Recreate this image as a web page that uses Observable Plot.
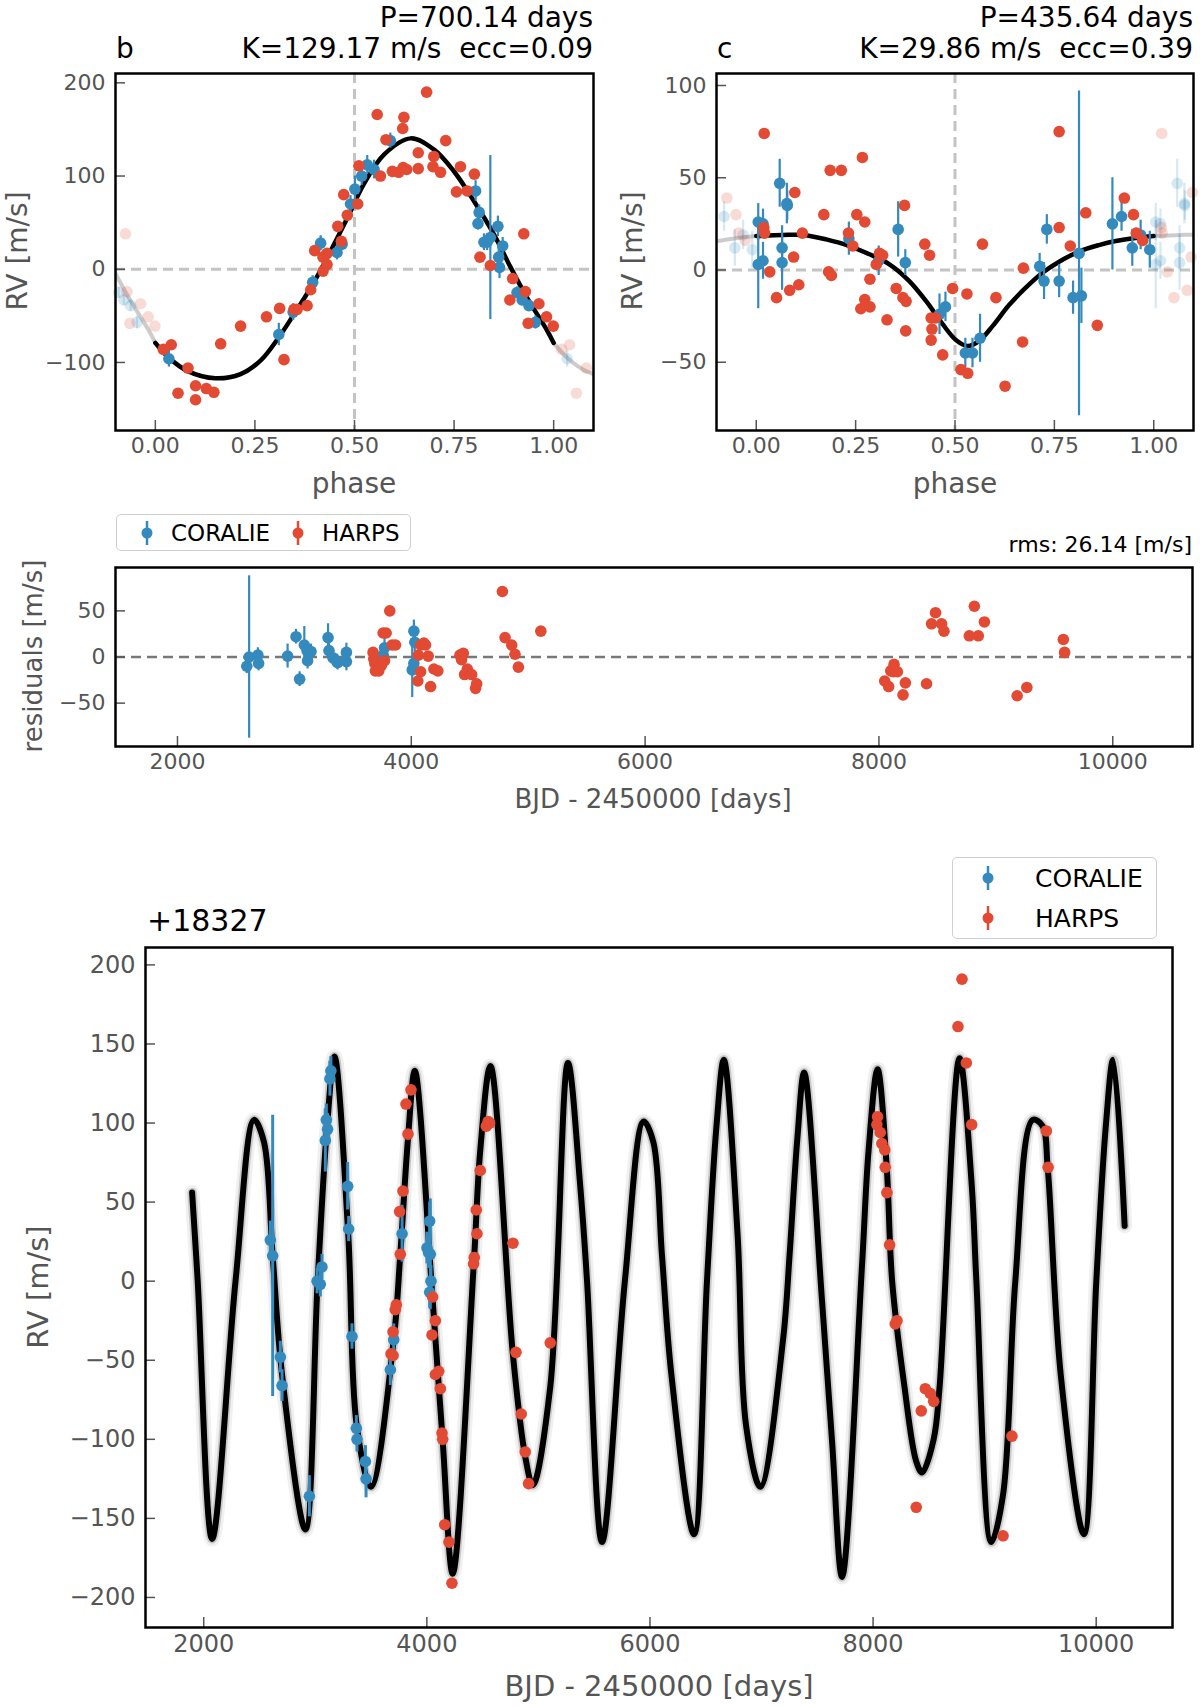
<!DOCTYPE html>
<html>
<head>
<meta charset="utf-8">
<script src="https://cdn.jsdelivr.net/npm/d3@7"></script>
<script src="https://cdn.jsdelivr.net/npm/@observablehq/plot@0.6"></script>
<style>
  html, body { margin: 0; padding: 0; background: #fff; }
  #page { position: relative; width: 1200px; height: 1707px; overflow: hidden;
          font-family: "DejaVu Sans", sans-serif; }
  .txt { position: absolute; white-space: pre; line-height: 1; }
  .legend { position: absolute; box-sizing: border-box; border: 1.5px solid #cfcfcf;
            border-radius: 5px; background: rgba(255,255,255,0.8); color: #000; }
  .legend .item { display: flex; align-items: center; }
</style>
</head>
<body>
<div id="page"></div>
<script>
// ---- Data -----------------------------------------------------------------

const instruments = ["CORALIE", "HARPS"];

// Planet b, phase-folded model: [phase, rv]
const curveB = [
  [0.000, -79], [0.034, -95], [0.080, -109], [0.151, -117], [0.214, -112.5],
  [0.264, -98], [0.310, -73], [0.356, -43], [0.398, -14], [0.440, 19.6],
  [0.482, 55], [0.523, 91], [0.574, 123], [0.641, 140.4], [0.699, 128.6],
  [0.749, 105.4], [0.800, 73], [0.850, 37.5], [0.892, 2], [0.933, -30.4],
  [0.984, -66], [1.000, -79]
];
// CORALIE, planet b: [phase, rv, err]
const coralieB = [
  [0.034, -96, 9], [0.310, -70, 12], [0.346, -46, 9], [0.395, -14, 7], [0.415, 28, 8],
  [0.456, 18, 8], [0.469, 27, 7], [0.490, 70, 9], [0.501, 86, 14], [0.518, 100, 10],
  [0.532, 112, 10], [0.549, 107, 10], [0.590, 138, 8], [0.804, 84, 11], [0.810, 49, 7],
  [0.813, 61, 8], [0.825, 29, 9], [0.833, 29, 9], [0.841, 34, 88], [0.860, 46, 11],
  [0.862, 13, 10], [0.864, 2, 12], [0.872, 25, 9], [0.908, -25, 6], [0.921, -33, 6],
  [0.938, -39, 6], [0.954, -57, 7]
];
// HARPS, planet b: [phase, rv]
const harpsB = [
  [0.020, -86], [0.040, -81], [0.057, -133], [0.082, -106], [0.101, -125], [0.101, -140],
  [0.128, -128], [0.147, -132], [0.164, -80], [0.214, -61], [0.279, -51], [0.312, -42],
  [0.323, -97], [0.348, -43], [0.356, -43], [0.381, -39], [0.390, -22], [0.400, 20],
  [0.421, 13], [0.421, -2], [0.431, 17], [0.431, 5], [0.458, 46], [0.467, 30],
  [0.473, 80], [0.482, 58], [0.508, 70], [0.511, 111], [0.557, 166], [0.565, 100],
  [0.579, 139], [0.595, 105], [0.611, 104], [0.621, 151], [0.622, 109], [0.624, 163],
  [0.631, 107], [0.660, 108], [0.660, 125], [0.681, 190], [0.697, 110], [0.699, 121],
  [0.716, 104], [0.729, 138], [0.756, 83], [0.766, 110], [0.783, 84], [0.801, 102],
  [0.815, 13], [0.841, 4], [0.890, -33], [0.897, -10], [0.925, 38], [0.929, -24],
  [0.936, -58], [0.963, -37], [0.982, -51], [0.999, -61]
];

// Planet c, phase-folded model: [phase, rv]
const curveC = [
  [0.000, 18.4], [0.067, 19.0], [0.118, 19.0], [0.176, 16.6], [0.235, 13.0],
  [0.285, 8.5], [0.335, 3.1], [0.385, -6.0], [0.427, -16.8], [0.469, -29.4],
  [0.503, -38.1], [0.532, -41.2], [0.561, -38.4], [0.595, -30.3], [0.636, -19.0],
  [0.678, -9.6], [0.720, -1.5], [0.762, 4.5], [0.812, 10.0], [0.862, 13.5],
  [0.904, 15.7], [0.954, 17.3], [1.000, 18.4]
];
const coralieC = [
  [0.005, 26, 10], [0.017, 25, 8], [0.005, 3, 24], [0.017, 5, 10], [0.059, 47, 13],
  [0.065, 12, 12], [0.065, 4, 15], [0.077, 36, 11], [0.078, 35, 8], [0.233, 17, 9],
  [0.308, 5, 8], [0.357, 22, 15], [0.375, 4, 7], [0.461, -24, 11], [0.476, -20, 8],
  [0.526, -45, 8], [0.544, -45, 8], [0.563, -37, 13], [0.713, 2, 7], [0.724, -6, 10],
  [0.731, 22, 8], [0.762, -6, 9], [0.797, -15, 9], [0.812, 9, 88], [0.818, -14, 15],
  [0.896, 25, 25], [0.919, 29, 8], [0.946, 12, 10], [0.967, 19, 8], [0.990, 11, 10]
];
const harpsC = [
  [0.019, 23], [0.020, 74], [0.021, 20], [0.034, -1], [0.051, -15], [0.084, -11],
  [0.094, 7], [0.097, 42], [0.107, -8], [0.116, 20], [0.170, 30], [0.182, -1],
  [0.186, 54], [0.189, -3], [0.214, 54], [0.232, 20], [0.243, 13], [0.253, 30],
  [0.263, -21], [0.267, 61], [0.273, 26], [0.273, -16], [0.286, -20], [0.286, -5],
  [0.302, 3], [0.310, 9], [0.318, 8], [0.329, -27], [0.352, -10], [0.369, -15],
  [0.373, 35], [0.376, -33], [0.377, -17], [0.424, 14], [0.436, 8], [0.440, -26],
  [0.440, -38], [0.442, -32], [0.451, -26], [0.469, -46], [0.494, -10], [0.515, -54],
  [0.530, -13], [0.532, -56], [0.569, 14], [0.603, -15], [0.626, -63], [0.670, -39],
  [0.672, 1], [0.762, 75], [0.762, 23], [0.790, 13], [0.829, 31], [0.858, -30],
  [0.926, 39], [0.949, 30], [0.956, 20], [0.972, 16]
];

// Residuals vs time: [BJD-2450000, residual, err]
const coralieRes = [
  [2593, -10, 8], [2613, 0, 88], [2688, 2, 8], [2694, -7, 8], [2942, 1, 13],
  [3014, 22, 8], [3045, -24, 8], [3085, 13, 20], [3108, 7, 9], [3113, -4, 9],
  [3142, 6, 8], [3288, 21, 15], [3296, 7, 8], [3330, -1, 8], [3364, -5, 8],
  [3370, -6, 8], [3445, 5, 10], [3445, -5, 10], [3760, 2, 10], [3771, 10, 18],
  [4008, -14, 30], [4022, 28, 12], [4030, 16, 10], [4022, -7, 10]
];
const harpsRes = [
  [3673, 5], [3679, -2], [3688, -7], [3693, -15], [3722, -15], [3745, -9], [3771, -4],
  [3759, 26], [3785, 26], [3816, 50], [3836, 13], [3865, 13],
  [4056, -26], [4060, 2], [4080, 13], [4080, -16], [4108, 15], [4122, 13], [4145, 1],
  [4165, -32], [4193, -13], [4227, -15],
  [4416, 2], [4430, -3], [4445, 4], [4456, -19], [4479, -13], [4516, -19], [4550, -34],
  [4559, -29],
  [4779, 71], [4802, 21], [4859, 13], [4887, 3], [4916, -11], [5108, 28],
  [8049, -26], [8083, -32], [8101, -15], [8124, -16], [8129, -8], [8158, -16],
  [8206, -41], [8226, -28],
  [8407, -29], [8450, 36], [8484, 48], [8536, 36], [8556, 28],
  [8773, 23], [8816, 55], [8850, 23], [8902, 38],
  [9182, -42], [9265, -33], [9577, 19], [9588, 5]
];

// Full two-planet model vs time: [BJD-2450000, rv]
const modelTime = [
  [1896, 56], [1946, 0], [2075, -163], [2285, 0], [2451, 102], [2540, 88], [2618, 16],
  [2702, -59], [2911, -157], [3021, 0], [3105, 97], [3172, 142], [3295, 30], [3371, -91],
  [3500, -130], [3703, -37], [3762, 17], [3831, 90], [3892, 133], [4052, -12],
  [4142, -101], [4232, -185], [4419, 9], [4479, 83], [4570, 136], [4772, -47],
  [4882, -111], [4950, -129], [5106, -67], [5265, 138], [5374, 61], [5436, 0],
  [5570, -165], [5775, 0], [5943, 101], [6030, 88], [6108, 16], [6192, -59],
  [6395, -160], [6511, 0], [6595, 97], [6662, 140], [6785, 30], [6861, -91],
  [6990, -130], [7193, -37], [7252, 17], [7321, 90], [7382, 132], [7542, -12],
  [7632, -101], [7722, -187], [7900, 9], [7960, 83], [8040, 134], [8120, 75],
  [8171, 0], [8280, -66], [8387, -114], [8440, -121], [8543, -100], [8596, -67],
  [8775, 141], [8884, 61], [8926, 0], [9060, -165], [9165, -135], [9275, 0],
  [9431, 102], [9520, 98], [9565, 72], [9682, -59], [9890, -160], [10001, 0],
  [10085, 97], [10152, 140], [10255, 35]
];
const coralieTime = [
  [2597, 26, 12], [2618, 16, 89], [2687, -48, 10], [2702, -66, 10], [2947, -136, 13],
  [3016, 0, 8], [3045, -2, 8], [3060, 9, 8], [3090, 89, 20], [3099, 102, 10],
  [3110, 96, 10], [3131, 128, 11], [3140, 133, 9], [3290, 60, 15], [3299, 33, 8],
  [3329, -35, 8], [3368, -93, 8], [3374, -100, 8], [3449, -114, 10], [3455, -125, 12],
  [3673, -56, 10], [3703, -37, 10], [3778, 30, 18], [4001, 21, 10], [4016, 18, 10],
  [4025, 38, 12], [4031, 17, 35], [4037, 0, 10], [4025, -7, 10]
];
const harpsTime = [
  [3679, -46], [3697, -47], [3697, -32], [3717, -18], [3726, -15], [3762, 17], [3756, 44],
  [3786, 57], [3813, 112], [3831, 93], [3858, 121],
  [4046, -34], [4052, -10], [4076, -25], [4076, -59], [4106, -57], [4121, -68],
  [4136, -96], [4142, -100], [4160, -154], [4198, -165], [4225, -191],
  [4419, 11], [4425, 15], [4443, 45], [4449, 30], [4479, 70], [4533, 98], [4550, 101],
  [4563, 100],
  [4772, 24], [4799, -45], [4846, -84], [4882, -108], [4912, -128], [5106, -39],
  [8034, 99], [8040, 104], [8064, 94], [8079, 87], [8105, 83], [8109, 72], [8124, 56],
  [8148, 23], [8199, -27], [8214, -25],
  [8387, -143], [8432, -82], [8468, -68], [8513, -71], [8543, -76],
  [8761, 161], [8797, 191], [8836, 138], [8884, 99],
  [9165, -161], [9245, -98], [9553, 95], [9569, 72]
];

// Tick values
const phaseTicks = [0, 0.25, 0.5, 0.75, 1];
const rvTicksB = [-100, 0, 100, 200];
const rvTicksC = [-50, 0, 50, 100];
const resTicks = [-50, 0, 50];
const timeTicks = [2000, 4000, 6000, 8000, 10000];
const rvTicksTime = [-200, -150, -100, -50, 0, 50, 100, 150, 200];

// ---- Drawing ---------------------------------------------------------------

const FONT = '"DejaVu Sans", sans-serif';
const BLUE = "#348ABD";
const RED = "#E24A33";
const DOT = 5.8;
const page = document.getElementById("page");

function text(str, x, y, o) {
  o = o || {};
  const el = document.createElement("div");
  el.className = "txt";
  el.textContent = str;
  el.style.left = x + "px";
  el.style.top = y + "px";
  el.style.fontSize = (o.size || 22) + "px";
  el.style.color = o.color || "#000";
  const tx = o.align === "right" ? "-100%" : o.align === "center" ? "-50%" : "0";
  el.style.transform = "translate(" + tx + ",-50%)" + (o.rotate ? " rotate(-90deg)" : "");
  page.appendChild(el);
}

function errIcon(color) {
  const ns = "http://www.w3.org/2000/svg";
  const s = document.createElementNS(ns, "svg");
  s.setAttribute("width", 14);
  s.setAttribute("height", 28);
  const l = document.createElementNS(ns, "line");
  l.setAttribute("x1", 7); l.setAttribute("x2", 7);
  l.setAttribute("y1", 2); l.setAttribute("y2", 26);
  l.setAttribute("stroke", color); l.setAttribute("stroke-width", 2.5);
  const c = document.createElementNS(ns, "circle");
  c.setAttribute("cx", 7); c.setAttribute("cy", 14); c.setAttribute("r", 5.5);
  c.setAttribute("fill", color);
  s.appendChild(l); s.appendChild(c);
  return s;
}

function legend(box, vertical, size) {
  const lg = document.createElement("div");
  lg.className = "legend";
  Object.assign(lg.style, {
    left: box.x + "px", top: box.y + "px", width: box.w + "px", height: box.h + "px",
    display: "flex", flexDirection: vertical ? "column" : "row",
    justifyContent: vertical ? "center" : "flex-start", alignItems: vertical ? "flex-start" : "center",
    fontSize: size + "px"
  });
  instruments.forEach(function (name, i) {
    const it = document.createElement("div");
    it.className = "item";
    const ic = errIcon(i === 0 ? BLUE : RED);
    ic.style.marginLeft = (vertical ? 28 : (i === 0 ? 23 : 21)) + "px";
    ic.style.marginRight = (vertical ? 40 : 17) + "px";
    it.appendChild(ic);
    const t = document.createElement("span");
    t.textContent = name;
    it.appendChild(t);
    if (vertical) it.style.height = "40px";
    lg.appendChild(it);
  });
  page.appendChild(lg);
}

function panel(frame, xDomain, yDomain, marks) {
  const mL = 90, mR = 12, mT = 12, mB = 60;
  const svg = Plot.plot({
    width: frame.w + mL + mR,
    height: frame.h + mT + mB,
    marginLeft: mL, marginRight: mR, marginTop: mT, marginBottom: mB,
    style: { background: "transparent", color: "#555", fontFamily: FONT, overflow: "visible" },
    x: { domain: xDomain },
    y: { domain: yDomain },
    marks: marks
  });
  svg.style.position = "absolute";
  svg.style.left = (frame.x - mL) + "px";
  svg.style.top = (frame.y - mT) + "px";
  page.appendChild(svg);
}

function axes(xt, xf, yt, yf, size) {
  return [
    Plot.axisX({ ticks: xt, tickFormat: xf, tickSize: -10, tickPadding: 17, fontSize: size,
                 label: null, strokeWidth: 1.5 }),
    Plot.axisY({ ticks: yt, tickFormat: yf, tickSize: -10, tickPadding: 20, fontSize: size,
                 label: null, strokeWidth: 1.5 }),
    Plot.frame({ stroke: "#000", strokeWidth: 2.5 })
  ];
}

// Copies of folded points shifted by one period, kept only inside [-0.1, 1.1].
function wrapped(rows) {
  return rows.flatMap(function (r) {
    return [[r[0] - 1].concat(r.slice(1)), [r[0] + 1].concat(r.slice(1))];
  }).filter(function (r) { return r[0] >= -0.1 && r[0] <= 1.1; });
}
function shifted(rows, k) { return rows.map(function (r) { return [r[0] + k, r[1]]; }); }

const X = function (d) { return d[0]; };
const Y = function (d) { return d[1]; };
const Y1 = function (d) { return d[1] - d[2]; };
const Y2 = function (d) { return d[1] + d[2]; };
const phaseFmt = d3.format(".2f");
const numFmt = function (d) { return d3.format("d")(d); };

function phaseMarks(curve, coralie, harps) {
  const fc = wrapped(coralie), fh = wrapped(harps);
  return [
    Plot.ruleY([0], { stroke: "#c4c4c4", strokeWidth: 3, strokeDasharray: "10,6" }),
    Plot.ruleX([0.5], { stroke: "#c4c4c4", strokeWidth: 3, strokeDasharray: "10,6" }),
    Plot.line(shifted(curve, -1), { x: X, y: Y, curve: "catmull-rom", stroke: "#000",
      strokeOpacity: 0.2, strokeWidth: 4, clip: true }),
    Plot.line(shifted(curve, 1), { x: X, y: Y, curve: "catmull-rom", stroke: "#000",
      strokeOpacity: 0.2, strokeWidth: 4, clip: true }),
    Plot.line(curve, { x: X, y: Y, curve: "catmull-rom", stroke: "#000", strokeWidth: 4.5 }),
    Plot.ruleX(fc, { x: X, y1: Y1, y2: Y2, stroke: BLUE, strokeWidth: 2.2, strokeOpacity: 0.2 }),
    Plot.dot(fc, { x: X, y: Y, r: DOT, fill: BLUE, fillOpacity: 0.2 }),
    Plot.dot(fh, { x: X, y: Y, r: DOT, fill: RED, fillOpacity: 0.2 }),
    Plot.ruleX(coralie, { x: X, y1: Y1, y2: Y2, stroke: BLUE, strokeWidth: 2.2 }),
    Plot.dot(coralie, { x: X, y: Y, r: DOT, fill: BLUE }),
    Plot.dot(harps, { x: X, y: Y, r: DOT, fill: RED })
  ];
}

// Panel b
const fB = { x: 115, y: 73, w: 478, h: 357 };
panel(fB, [-0.1, 1.1], [-173, 210],
  phaseMarks(curveB, coralieB, harpsB).concat(axes(phaseTicks, phaseFmt, rvTicksB, numFmt, 22)));
// Panel c
const fC = { x: 716, y: 73, w: 477, h: 357 };
panel(fC, [-0.1, 1.1], [-87, 106.5],
  phaseMarks(curveC, coralieC, harpsC).concat(axes(phaseTicks, phaseFmt, rvTicksC, numFmt, 22)));

// Residuals
const fR = { x: 115, y: 567, w: 1077, h: 179 };
panel(fR, [1470, 10682], [-97, 97], [
  Plot.ruleY([0], { stroke: "#777", strokeWidth: 2.5, strokeDasharray: "10,6" }),
  Plot.ruleX(coralieRes, { x: X, y1: Y1, y2: Y2, stroke: BLUE, strokeWidth: 2.2 }),
  Plot.dot(coralieRes, { x: X, y: Y, r: DOT, fill: BLUE }),
  Plot.dot(harpsRes, { x: X, y: Y, r: DOT, fill: RED })
].concat(axes(timeTicks, numFmt, resTicks, numFmt, 22)));

// Full time series: the model is drawn as a soft grey band (posterior spread) under a black core.
const fT = { x: 145, y: 947, w: 1027, h: 680 };
panel(fT, [1478, 10684], [-219, 211], [
  Plot.line(modelTime, { x: X, y: Y, curve: "catmull-rom", stroke: "#000",
    strokeOpacity: 0.06, strokeWidth: 15 }),
  Plot.line(modelTime, { x: X, y: Y, curve: "catmull-rom", stroke: "#000",
    strokeOpacity: 0.16, strokeWidth: 9.5 }),
  Plot.line(modelTime, { x: X, y: Y, curve: "catmull-rom", stroke: "#000", strokeWidth: 6 }),
  Plot.ruleX(coralieTime, { x: X, y1: Y1, y2: Y2, stroke: BLUE, strokeWidth: 3 }),
  Plot.dot(coralieTime, { x: X, y: Y, r: DOT, fill: BLUE }),
  Plot.dot(harpsTime, { x: X, y: Y, r: DOT, fill: RED })
].concat(axes(timeTicks, numFmt, rvTicksTime, numFmt, 24)));

// ---- Text ------------------------------------------------------------------
const GREY = "#555";
text("P=700.14 days", 593, 18, { size: 28, align: "right" });
text("K=129.17 m/s  ecc=0.09", 593, 49, { size: 28, align: "right" });
text("b", 116, 49, { size: 28 });
text("P=435.64 days", 1193, 18, { size: 28, align: "right" });
text("K=29.86 m/s  ecc=0.39", 1193, 49, { size: 28, align: "right" });
text("c", 717, 49, { size: 28 });

text("phase", 354, 484, { size: 28, align: "center", color: GREY });
text("phase", 955, 484, { size: 28, align: "center", color: GREY });
text("RV [m/s]", 18, 251, { size: 28, align: "center", color: GREY, rotate: true });
text("RV [m/s]", 633, 251, { size: 28, align: "center", color: GREY, rotate: true });

legend({ x: 116, y: 514, w: 295, h: 37 }, false, 23);
text("rms: 26.14 [m/s]", 1192, 545, { size: 22, align: "right" });
text("BJD - 2450000 [days]", 653, 799, { size: 26, align: "center", color: GREY });
text("residuals [m/s]", 33, 656, { size: 26, align: "center", color: GREY, rotate: true });

legend({ x: 952, y: 857, w: 205, h: 82 }, true, 25);
text("+18327", 147, 921, { size: 30 });
text("BJD - 2450000 [days]", 659, 1686, { size: 29, align: "center", color: GREY });
text("RV [m/s]", 38, 1287, { size: 29, align: "center", color: GREY, rotate: true });
</script>
</body>
</html>
